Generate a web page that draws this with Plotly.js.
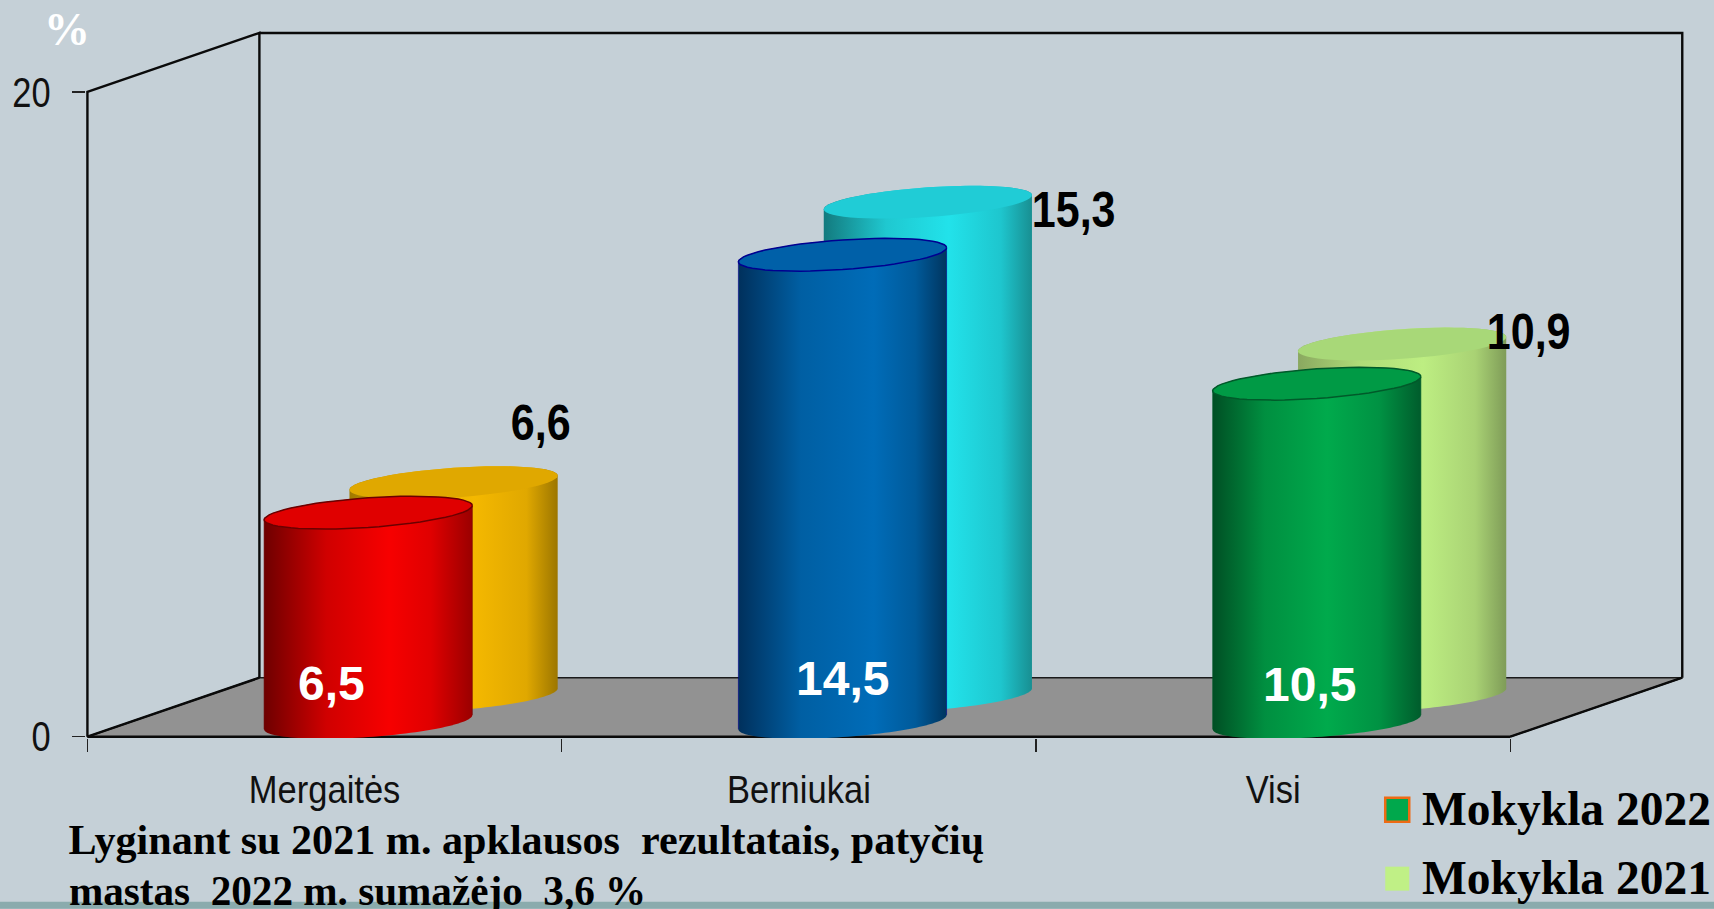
<!DOCTYPE html>
<html><head><meta charset="utf-8">
<script src="https://cdn.plot.ly/plotly-3.0.1.min.js"></script>
<style>html,body{margin:0;padding:0;background:#c5d0d7;overflow:hidden}#c{width:1714px;height:909px}</style>
</head><body><div id="c"></div>
<script>
const categories = ['Mergaitės','Berniukai','Visi'];
const values2022 = [6.5,14.5,10.5];
const values2021 = [6.6,15.3,10.9];
const yTicks = [0,20];
const seriesNames = ['Mokykla 2022','Mokykla 2021'];
const note = ['Lyginant su 2021 m. apklausos&#160;&#160;rezultatais, patyčių','mastas&#160;&#160;2022 m. sumažėjo&#160;&#160;3,6 %'];

const W=1714,H=909;
const x0Px=87.5, y0Px=737, unitX=474.17, unitY=32.25;   // pixels per axis unit
const depthX=0.3626, depthY=1.83;
const nCat=categories.length;
const xRange=[-0.003,nCat+depthX+0.01], yRange=[-0.04,20+depthY+0.06];
const L=x0Px+xRange[0]*unitX, R=x0Px+xRange[1]*unitX, B=y0Px-yRange[0]*unitY, T=y0Px-yRange[1]*unitY;
const px=x=>(x-L)/(R-L), py=y=>(B-y)/(B-T);
const halfW=0.2195, shear=0.22, minor=0.46;
const frontX=0.592, backX=0.772, frontBase=0.45, backBase=1.28;

const grad2022=[
 {stops:[[0,'#6e0000'],[0.3,'#d00000'],[0.6,'#f70000'],[0.8,'#e00000'],[1,'#9a0000']],top:'#e00000',line:'#6b0000'},
 {stops:[[0,'#00305c'],[0.3,'#005fa3'],[0.65,'#006cb8'],[0.85,'#005a9a'],[1,'#00355f']],top:'#0060a8',line:'#000090'},
 {stops:[[0,'#004f24'],[0.25,'#008f40'],[0.55,'#00aa4c'],[0.8,'#009243'],[1,'#005c2c']],top:'#009a45',line:'#005a2a'}];
const grad2021=[
 {stops:[[0,'#a07800'],[0.3,'#e6ac00'],[0.6,'#f4b800'],[0.85,'#e0a800'],[1,'#9c7600']],top:'#e0a800'},
 {stops:[[0,'#137a7e'],[0.3,'#1fc8d0'],[0.6,'#22e2ea'],[0.85,'#1ec6ce'],[1,'#188f92']],top:'#20ccd6'},
 {stops:[[0,'#8aa860'],[0.3,'#b0dc78'],[0.6,'#bdee82'],[0.85,'#a9d274'],[1,'#7f9c58']],top:'#a8d878'}];

function arc(cx,cy,from,to){
  const xs=[],ys=[],n=60;
  for(let i=0;i<=n;i++){const t=from+(to-from)*i/n;
    xs.push(cx+halfW*Math.cos(t)); ys.push(cy+shear*Math.cos(t)+minor*Math.sin(t));}
  return [xs,ys];
}
function cylinder(cx,base,val,style){
  const topY=base+val;
  const [bx,by]=arc(cx,base,Math.PI,2*Math.PI);
  const [tx,ty]=arc(cx,topY,0,Math.PI);
  const body={type:'scatter',mode:'none',x:bx.concat(tx),y:by.concat(ty),fill:'toself',
    showlegend:false,hoverinfo:'skip',fillgradient:{type:'horizontal',colorscale:style.stops}};
  const [ex,ey]=arc(cx,topY,0,2*Math.PI);
  const cap={type:'scatter',mode:style.line?'lines':'none',x:ex,y:ey,fill:'toself',fillcolor:style.top,
    line:{color:style.line||style.top,width:1.5},showlegend:false,hoverinfo:'skip'};
  const out=[body,cap];
  if(style.line){
    out.push({type:'scatter',mode:'lines',x:[cx-halfW,cx-halfW],y:[base-shear,topY-shear],line:{color:style.line,width:0.6},showlegend:false,hoverinfo:'skip'});
    out.push({type:'scatter',mode:'lines',x:[cx+halfW,cx+halfW],y:[base+shear,topY+shear],line:{color:style.line,width:0.6},showlegend:false,hoverinfo:'skip'});
  }
  return out;
}
const frame={color:'#0a0a0a',width:2.4};
const traces=[];
traces.push({type:'scatter',mode:'lines',x:[0,nCat,nCat+depthX,depthX,0],y:[0,0,depthY,depthY,0],fill:'toself',fillcolor:'#929292',
  line:{color:'#1a1a1a',width:1.5},showlegend:false,hoverinfo:'skip'});
traces.push({type:'scatter',mode:'lines',
  x:[0,nCat,null,0,0,depthX,depthX,null,depthX,nCat+depthX,nCat+depthX,null,0,depthX,null,nCat,nCat+depthX],
  y:[0,0,null,0,20,20+depthY,depthY,null,20+depthY,20+depthY,depthY,null,0,depthY,null,0,depthY],
  line:frame,showlegend:false,hoverinfo:'skip'});
categories.forEach((c,i)=>{traces.push(...cylinder(i+backX,backBase,values2021[i],grad2021[i]));});
categories.forEach((c,i)=>{traces.push(...cylinder(i+frontX,frontBase,values2022[i],grad2022[i]));});

const fmt=v=>String(v).replace('.',',');
const annotations=[], squeeze=[];
const sans='"Liberation Sans",Arial,sans-serif';
const serif='"Liberation Serif","Times New Roman",serif';
const whiteOff=[[-0.077,-5.29],[0.001,-13.13],[-0.016,-9.33]];
const blackOff=[[0.185,1.84],[0.308,-0.23],[0.267,0.37]];
categories.forEach((c,i)=>{
  annotations.push({xref:'x',yref:'y',x:i+frontX+whiteOff[i][0],y:frontBase+values2022[i]+whiteOff[i][1],text:'<b>'+fmt(values2022[i])+'</b>',showarrow:false,
    font:{family:sans,size:48,color:'#fff'}}); squeeze.push(1);
  annotations.push({xref:'x',yref:'y',x:i+backX+blackOff[i][0],y:backBase+values2021[i]+blackOff[i][1],text:'<b>'+fmt(values2021[i])+'</b>',showarrow:false,
    font:{family:sans,size:50,color:'#000'}}); squeeze.push(0.86);
});
annotations.push({xref:'paper',yref:'paper',xanchor:'center',yanchor:'middle',x:px(67),y:py(30),text:'<b>%</b>',showarrow:false,font:{family:serif,size:46,color:'#fff'}}); squeeze.push(1);
note.forEach((t,i)=>{annotations.push({xref:'paper',yref:'paper',xanchor:'left',yanchor:'middle',x:px(i?61:68),y:py(840+i*51),text:'<b>'+t+'</b>',showarrow:false,
  font:{family:serif,size:42,color:'#000'}}); squeeze.push(i?0.98:1.003);});
seriesNames.forEach((t,i)=>{annotations.push({xref:'paper',yref:'paper',xanchor:'left',yanchor:'middle',x:px(1420),y:py(809+i*69),text:'<b>'+t+'</b>',showarrow:false,
  font:{family:serif,size:47.5,color:'#000'}}); squeeze.push(1);});

const shapes=[
 {type:'rect',xref:'paper',yref:'paper',x0:px(0),x1:px(W),y0:py(902),y1:py(H),fillcolor:'#8aabad',line:{width:0},layer:'below'},
 {type:'rect',xref:'paper',yref:'paper',x0:px(1385),x1:px(1409),y0:py(798),y1:py(822),fillcolor:'#00a84c',line:{color:'#ee6a14',width:2.5}},
 {type:'rect',xref:'paper',yref:'paper',x0:px(1385),x1:px(1409),y0:py(867),y1:py(891),fillcolor:'#c0f086',line:{width:0}}];

Plotly.newPlot('c',traces,{
  width:W,height:H,paper_bgcolor:'#c5d0d7',plot_bgcolor:'rgba(0,0,0,0)',showlegend:false,
  margin:{l:L,r:W-R,t:T,b:H-B,pad:0,autoexpand:false},
  font:{family:sans,color:'#000'},
  xaxis:{type:'linear',range:xRange,tickvals:categories.map((c,i)=>i+0.5),ticktext:categories,ticks:'',
    showgrid:false,zeroline:false,showline:false,tickfont:{family:sans,size:39,color:'#111'},ticklabelstandoff:25,
    minor:{tickvals:[0,1,2,3],ticks:'outside',ticklen:13,tickcolor:'#222',tickwidth:1.5,showgrid:false}},
  yaxis:{range:yRange,tickvals:yTicks,ticktext:yTicks.map(String),ticks:'outside',ticklen:13,tickcolor:'#222',tickwidth:1.5,
    showgrid:false,zeroline:false,showline:false,tickfont:{family:sans,size:42,color:'#111'},ticklabelstandoff:13},
  shapes,annotations
},{displayModeBar:false,staticPlot:true}).then(()=>{
  const narrow=(el,f)=>{ if(f===1||!el) return;
    el.setAttribute('lengthAdjust','spacingAndGlyphs');
    el.setAttribute('textLength',el.getComputedTextLength()*f); };
  document.querySelectorAll('.xtick text').forEach(e=>narrow(e,0.885));
  document.querySelectorAll('.ytick text').forEach(e=>narrow(e,0.82));
  document.querySelectorAll('.annotation').forEach((a,i)=>narrow(a.querySelector('text'),squeeze[i]));
});
</script></body></html>
